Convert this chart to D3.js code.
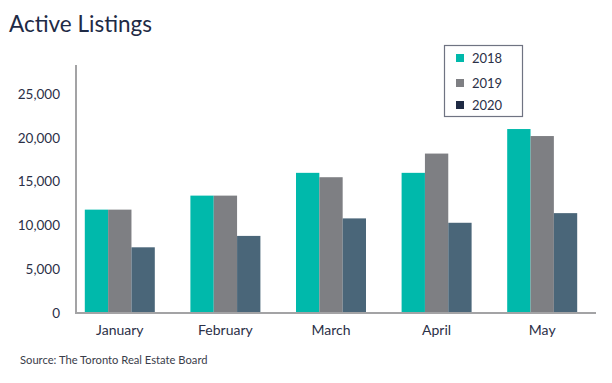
<!DOCTYPE html>
<html><head><meta charset="utf-8">
<script src="https://cdn.jsdelivr.net/npm/d3@7"></script>
<style>body{margin:0;background:#fff}svg{display:block}</style>
</head><body><svg id="c" width="612" height="383"></svg>
<script>
const months = ["January","February","March","April","May"];
const seriesNames = ["2018","2019","2020"];
const v2018 = [11800,13400,16000,16000,21000];
const v2019 = [11800,13400,15500,18200,20200];
const v2020 = [7500,8800,10800,10300,11400];
const yTicks = [0,5000,10000,15000,20000,25000];
const barColors = ["#00b9ab","#7e7f83","#4a6679"];
const legendColors = ["#00b9ab","#7e7f83","#1f2a44"];

const svg = d3.select("#c");
const font = "Lato, 'Open Sans', sans-serif";
const textCol = "#2b3047";
const series = [v2018,v2019,v2020];

const y = d3.scaleLinear().domain([0,25000]).range([313,94]);
const x = d3.scaleBand().domain(months).range([67,595]).paddingInner(0).paddingOuter(0);
const xs = d3.scaleBand().domain(seriesNames).range([-35,35]).padding(0);

svg.append("text").attr("x",9).attr("y",32).text("Active Listings")
  .attr("font-family",font).attr("font-size",22.5).attr("fill","#1e2a45");

// bars
months.forEach((m,i)=>{
  series.forEach((s,j)=>{
    svg.append("rect")
      .attr("x", x(m)+x.bandwidth()/2+xs(seriesNames[j]))
      .attr("width", xs.bandwidth())
      .attr("y", y(s[i]))
      .attr("height", y(0)-y(s[i]))
      .attr("fill", barColors[j]);
  });
});

// axes lines
svg.append("line").attr("x1",76).attr("x2",76).attr("y1",65).attr("y2",313.5)
  .attr("stroke","#a3a3a5").attr("stroke-width",2);
svg.append("line").attr("x1",75).attr("x2",596).attr("y1",313).attr("y2",313)
  .attr("stroke","#a3a3a5").attr("stroke-width",2);

// y labels
const fmt = d3.format(",");
svg.selectAll(".yt").data(yTicks).enter().append("text")
  .attr("x",60).attr("y",d=>y(d)).attr("dy","0.35em").attr("text-anchor","end")
  .text(d=>fmt(d)).attr("font-family",font).attr("font-size",13.5).attr("fill",textCol);

// x labels
svg.selectAll(".xt").data(months).enter().append("text")
  .attr("x",d=>x(d)+x.bandwidth()/2).attr("y",330).attr("dy","0.35em").attr("text-anchor","middle")
  .text(d=>d).attr("font-family",font).attr("font-size",14).attr("fill",textCol);

// legend
svg.append("rect").attr("x",444.5).attr("y",45.5).attr("width",78).attr("height",71)
  .attr("fill","#fff").attr("stroke","#6f7382").attr("stroke-width",1.2);
const ly = [58,83,105];
seriesNames.forEach((n,j)=>{
  svg.append("rect").attr("x",456).attr("y",ly[j]-4).attr("width",8).attr("height",8).attr("fill",legendColors[j]);
  svg.append("text").attr("x",472).attr("y",ly[j]).attr("dy","0.35em").text(n)
    .attr("font-family",font).attr("font-size",13).attr("fill",textCol);
});

svg.append("text").attr("x",20).attr("y",364).text("Source: The Toronto Real Estate Board")
  .attr("font-family",font).attr("font-size",11.2).attr("fill","#3a3d4a");
</script></body></html>
